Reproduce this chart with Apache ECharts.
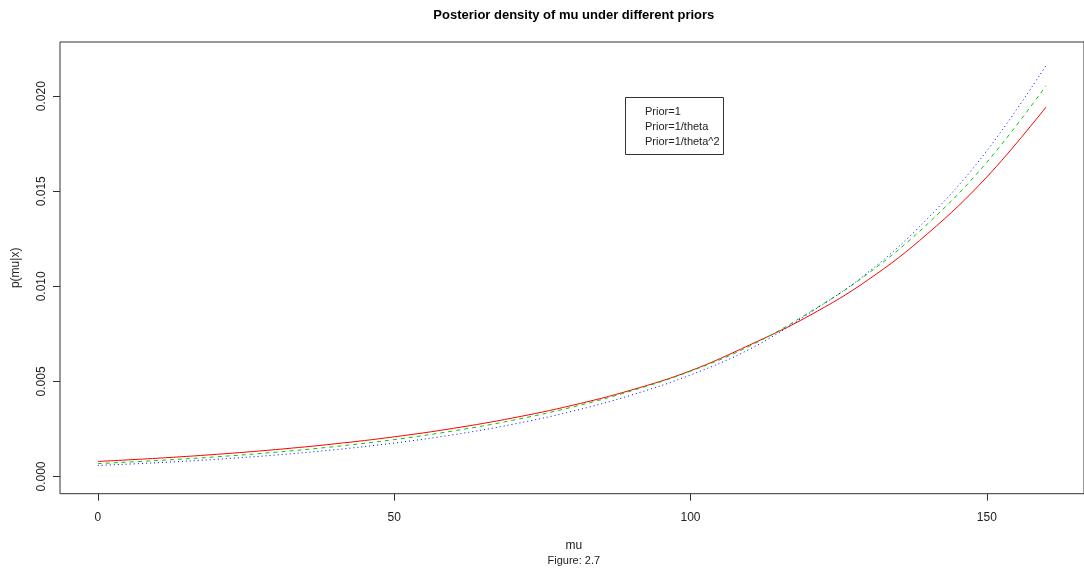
<!DOCTYPE html>
<html>
<head>
<meta charset="utf-8">
<script src="https://cdn.jsdelivr.net/npm/echarts@6/dist/echarts.min.js"></script>
<style>
  html, body { margin: 0; padding: 0; background: #fff; }
  #chart { width: 1084px; height: 569px; }
</style>
</head>
<body>
<div id="chart"></div>
<script>
// Posterior density p(mu|x) evaluated on a grid of mu values
const muGrid = [0, 10, 20, 30, 40, 50, 60, 70, 80, 90, 100, 110, 120, 130, 140, 150, 160];

const priorFlat = [0.00079, 0.00096, 0.001165, 0.001415, 0.001718, 0.002087, 0.002534, 0.003078,
  0.003738, 0.004545, 0.00556, 0.00692, 0.00845, 0.01035, 0.01277, 0.01575, 0.01943];
const priorInvTheta = [0.00068, 0.000839, 0.001035, 0.001277, 0.001575, 0.001943, 0.002397, 0.002957,
  0.003648, 0.0045, 0.005535, 0.00686, 0.00862, 0.010682, 0.013286, 0.016525, 0.020554];
const priorInvTheta2 = [0.00058, 0.000724, 0.000904, 0.001129, 0.00141, 0.00176, 0.002198, 0.002744,
  0.003426, 0.004278, 0.005342, 0.0067, 0.00858, 0.010747, 0.013567, 0.017127, 0.021621];

const seriesNames = ['Prior=1', 'Prior=1/theta', 'Prior=1/theta^2'];
const xTicks = [0, 50, 100, 150];
const yTicks = [0, 0.005, 0.01, 0.015, 0.02];

const titleText = 'Posterior density of mu under different priors';
const xTitle = 'mu';
const yTitle = 'p(mu|x)';
const captionText = 'Figure: 2.7';

const FONT = '"Liberation Sans", Arial, sans-serif';
const INK = '#222';

const toPairs = ys => muGrid.map((m, i) => [m, ys[i]]);

const chart = echarts.init(document.getElementById('chart'), null, { renderer: 'canvas' });

const gridLeft = 60, gridTop = 42, gridW = 1027.6, gridH = 451.7;
const plotCenterX = gridLeft + gridW / 2;

const lineSeries = [
  { name: seriesNames[0], data: priorFlat, color: '#FF0000', type: 'solid' },
  { name: seriesNames[1], data: priorInvTheta, color: '#00CD00', type: [4, 4] },
  { name: seriesNames[2], data: priorInvTheta2, color: '#0000FF', type: [1, 3] }
].map(s => ({
  name: s.name,
  type: 'line',
  data: toPairs(s.data),
  smooth: 0.4,
  showSymbol: false,
  silent: true,
  animation: false,
  lineStyle: { color: s.color, width: 1, type: s.type },
  itemStyle: { color: s.color }
}));

// legend box with text entries only
const legendX = 625.5, legendY = 97.5, legendW = 98, legendH = 57;
const legendItems = seriesNames.map((name, i) => ({
  type: 'text',
  left: 645,
  top: 106 + i * 15,
  style: { text: name, font: '11px ' + FONT, fill: INK, textVerticalAlign: 'top' }
}));

chart.setOption({
  animation: false,
  backgroundColor: '#fff',
  grid: {
    left: gridLeft, top: gridTop, width: gridW, height: gridH,
    show: true, borderColor: '#333', borderWidth: 1, backgroundColor: 'transparent'
  },
  xAxis: {
    type: 'value', min: -6.4, max: 166.4, position: 'bottom',
    axisLine: { show: false, onZero: false },
    splitLine: { show: false },
    axisTick: { show: true, length: 7, lineStyle: { color: '#333' }, customValues: xTicks },
    axisLabel: {
      customValues: xTicks, margin: 18,
      fontFamily: FONT, fontSize: 12, color: INK,
      formatter: v => String(v)
    }
  },
  yAxis: {
    type: 'value', min: -0.000905, max: 0.02285, position: 'left',
    axisLine: { show: false, onZero: false },
    splitLine: { show: false },
    axisTick: { show: true, length: 7, lineStyle: { color: '#333' }, customValues: yTicks },
    axisLabel: {
      customValues: yTicks, margin: 12, rotate: 90,
      fontFamily: FONT, fontSize: 12, color: INK,
      formatter: v => v.toFixed(3)
    }
  },
  series: lineSeries,
  graphic: [
    {
      type: 'text', x: plotCenterX, y: 15,
      style: { text: titleText, font: 'bold 13px ' + FONT, fill: '#000', textAlign: 'center', textVerticalAlign: 'middle' }
    },
    {
      type: 'text', x: plotCenterX, y: 546,
      style: { text: xTitle, font: '12px ' + FONT, fill: INK, textAlign: 'center', textVerticalAlign: 'middle' }
    },
    {
      type: 'text', x: plotCenterX, y: 561,
      style: { text: captionText, font: '11px ' + FONT, fill: INK, textAlign: 'center', textVerticalAlign: 'middle' }
    },
    {
      type: 'text', x: 16, y: gridTop + gridH / 2, rotation: Math.PI / 2,
      style: { text: yTitle, font: '12px ' + FONT, fill: INK, textAlign: 'center', textVerticalAlign: 'middle' }
    },
    {
      type: 'rect',
      shape: { x: legendX, y: legendY, width: legendW, height: legendH },
      style: { fill: '#fff', stroke: '#333', lineWidth: 1 }
    }
  ].concat(legendItems)
});
</script>
</body>
</html>
